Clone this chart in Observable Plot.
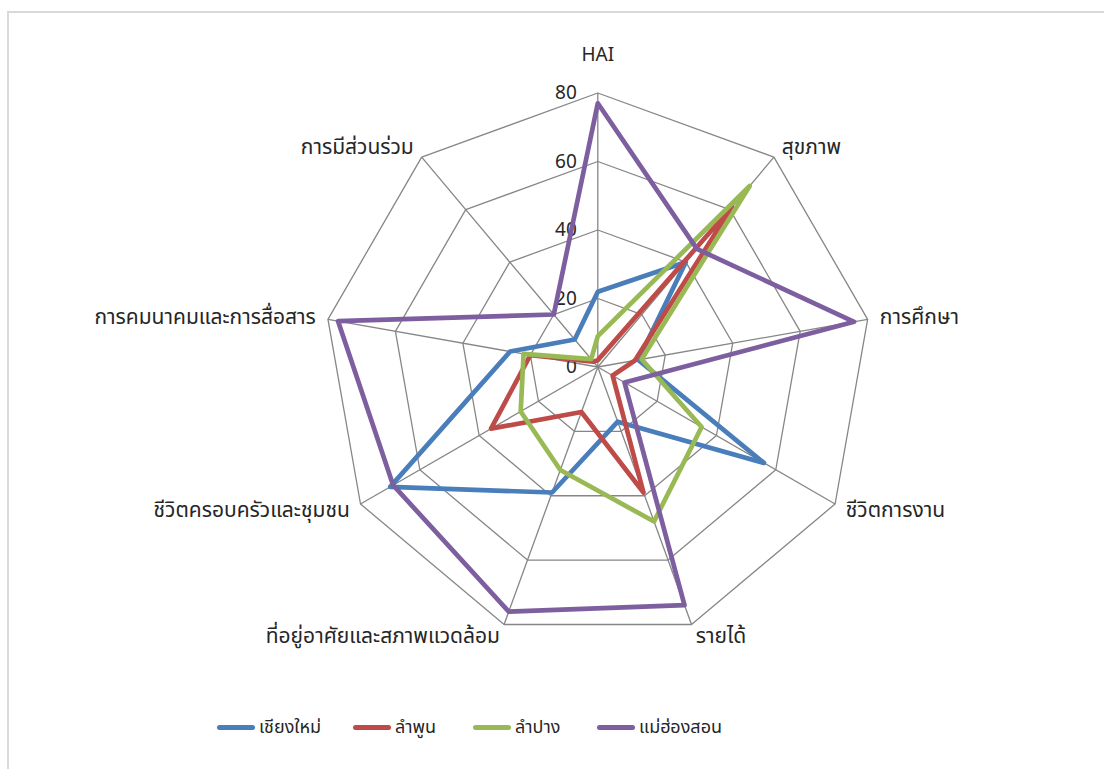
<!DOCTYPE html>
<html>
<head>
<meta charset="utf-8">
<script src="https://cdn.jsdelivr.net/npm/d3@7"></script>
<script src="https://cdn.jsdelivr.net/npm/@observablehq/plot@0.6"></script>
<style>
  html, body { margin: 0; padding: 0; background: #fff; overflow: hidden; width: 1104px; height: 769px; }
  #frame { position: absolute; left: 7px; top: 11px; width: 1200px; height: 900px; border: 2px solid #d9d9d9; box-sizing: border-box; }
  #chart { position: absolute; left: 0; top: 0; }
  #legend { position: absolute; left: 0; top: 700px; width: 1104px; height: 54px; font-family: "Noto Sans Thai", "Noto Sans", Tahoma, sans-serif; font-size: 18px; color: #262626; }
  .item { position: absolute; top: 0; height: 54px; display: flex; align-items: center; }
  .sw { width: 38px; height: 5px; border-radius: 3px; margin-right: 4px; }
</style>
</head>
<body>
<div id="frame"></div>
<div id="chart"></div>
<div id="legend"></div>
<script>
// ---- data ----
const categories = ["HAI", "สุขภาพ", "การศึกษา", "ชีวิตการงาน", "รายได้", "ที่อยู่อาศัยและสภาพแวดล้อม", "ชีวิตครอบครัวและชุมชน", "การคมนาคมและการสื่อสาร", "การมีส่วนร่วม"];
const seriesNames = ["เชียงใหม่", "ลำพูน", "ลำปาง", "แม่ฮ่องสอน"];
const chiangMai   = [22, 40, 12, 56, 17, 39, 70, 26, 10.5];
const lamphun     = [2, 61, 11, 5, 39, 14, 36, 20, 2];
const lampang     = [9, 69, 13, 35, 48, 32, 26, 22, 3];
const maeHongSon  = [77, 45, 76, 9, 74, 76, 69, 77, 20];
const ticks = [0, 20, 40, 60, 80];
const rings = [20, 40, 60, 80];
const seriesColors = ["#4a7ebb", "#be4b48", "#98b954", "#7d5fa0"];

// ---- geometry helpers ----
const W = 1104, H = 700, cx = 597.3, cy = 366.5, k = 274 / 80;
const n = categories.length;
const ang = i => i * 2 * Math.PI / n;

const allSeries = [chiangMai, lamphun, lampang, maeHongSon];
const lineData = [];
allSeries.forEach((vals, s) => {
  vals.forEach((v, i) => {
    lineData.push({series: seriesNames[s], x: v * Math.sin(ang(i)), y: v * Math.cos(ang(i))});
  });
});

const ringData = [];
rings.forEach(r => categories.forEach((c, i) => ringData.push({ring: r, x: r * Math.sin(ang(i)), y: r * Math.cos(ang(i))})));

const spokes = categories.map((c, i) => ({x2: 80 * Math.sin(ang(i)), y2: 80 * Math.cos(ang(i))}));

const labelData = categories.map((c, i) => {
  const s = Math.sin(ang(i));
  const r = i === 0 ? 80 + 11 : 80 + 3.6;
  return {text: c, x: r * s, y: r * Math.cos(ang(i)), size: i === 0 ? 19 : 21,
          anchor: Math.abs(s) < 0.01 ? "middle" : (s > 0 ? "start" : "end")};
});

const font = '"Noto Sans Thai", "Noto Sans", Tahoma, sans-serif';

const chart = Plot.plot({
  width: W, height: H,
  margin: 0,
  style: {fontFamily: font, background: "transparent"},
  x: {domain: [-cx / k, (W - cx) / k], range: [0, W], axis: null},
  y: {domain: [(cy - H) / k, cy / k], range: [H, 0], axis: null},
  color: {domain: seriesNames, range: seriesColors},
  marks: [
    Plot.link(spokes, {x1: () => 0, y1: () => 0, x2: "x2", y2: "y2", stroke: "#868686", strokeWidth: 1.3}),
    Plot.line(ringData, {x: "x", y: "y", z: "ring", curve: "linear-closed", stroke: "#868686", strokeWidth: 1.3}),
    Plot.text(ticks, {x: () => 0, y: d => d, text: d => String(d), textAnchor: "end", dx: -21, fontSize: 19, fill: "#262626"}),
    Plot.line(lineData, {x: "x", y: "y", z: "series", stroke: "series", curve: "linear-closed", strokeWidth: 4.7, strokeLinejoin: "round"}),
    ...["start", "end", "middle"].map(a => Plot.text(labelData.filter(d => d.anchor === a), {x: "x", y: "y", text: "text", textAnchor: a, fontSize: "size", fill: "#262626"}))
  ]
});
document.getElementById("chart").appendChild(chart);

// ---- legend ----
const legend = document.getElementById("legend");
const lefts = [217, 353, 473, 597];
seriesNames.forEach((name, i) => {
  const it = document.createElement("div");
  it.className = "item";
  it.style.left = lefts[i] + "px";
  it.innerHTML = `<span class="sw" style="background:${seriesColors[i]}"></span><span>${name}</span>`;
  legend.appendChild(it);
});
</script>
</body>
</html>
